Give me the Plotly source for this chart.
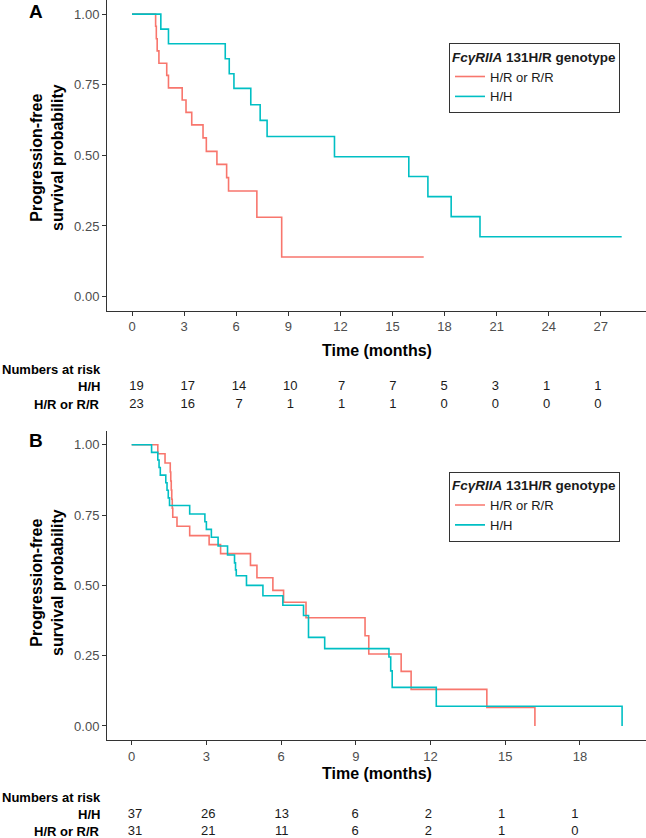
import plotly.graph_objects as go

# ---------------- data ----------------
# Panel A
a_hh_t = [0, 1.66, 2.10, 5.37, 5.60, 5.87, 6.84, 7.38, 7.78, 11.66, 15.94, 17.04, 18.38, 20.04, 28.2]
a_hh_s = [1, 0.947, 0.895, 0.842, 0.789, 0.737, 0.679, 0.624, 0.567, 0.495, 0.425, 0.354, 0.283, 0.212, 0.212]
a_hr_t = [0, 1.36, 1.40, 1.45, 1.55, 2.00, 2.10, 2.89, 3.11, 3.44, 4.09, 4.28, 4.89, 5.45, 5.56, 7.19, 8.62, 16.8]
a_hr_s = [1, 0.957, 0.913, 0.870, 0.826, 0.783, 0.739, 0.696, 0.652, 0.608, 0.562, 0.514, 0.468, 0.421, 0.374, 0.281, 0.140, 0.140]
a_ticks = [0, 3, 6, 9, 12, 15, 18, 21, 24, 27]
a_risk_hh = [19, 17, 14, 10, 7, 7, 5, 3, 1, 1]
a_risk_hr = [23, 16, 7, 1, 1, 1, 0, 0, 0, 0]

# Panel B
b_hh_t = [0, 0.80, 1.05, 1.10, 1.15, 1.37, 1.42, 1.47, 1.52, 2.33, 2.94, 3.00, 3.20, 3.47, 3.85,
          4.13, 4.17, 4.20, 4.61, 5.27, 6.07, 6.90, 7.10, 7.75, 10.33, 10.40, 10.46, 12.23, 19.69]
b_hh_s = [1, 0.973, 0.946, 0.919, 0.892, 0.865, 0.838, 0.811, 0.784, 0.754, 0.726, 0.699, 0.671, 0.640, 0.608,
          0.580, 0.555, 0.534, 0.500, 0.463, 0.429, 0.393, 0.315, 0.275, 0.245, 0.196, 0.137, 0.070, 0.0]
b_hr_t = [0, 1.05, 1.34, 1.55, 1.57, 1.59, 1.61, 1.63, 1.65, 1.82, 2.33, 3.11, 3.57, 4.77, 5.03,
          5.67, 6.10, 7.00, 9.37, 9.52, 10.82, 11.22, 14.26, 16.19]
b_hr_s = [1, 0.968, 0.935, 0.903, 0.871, 0.839, 0.806, 0.774, 0.742, 0.710, 0.677, 0.645, 0.613, 0.571, 0.527,
          0.482, 0.440, 0.385, 0.321, 0.256, 0.194, 0.130, 0.066, 0.0]
b_ticks = [0, 3, 6, 9, 12, 15, 18]
b_risk_hh = [37, 26, 13, 6, 2, 1, 1]
b_risk_hr = [31, 21, 11, 6, 2, 1, 0]

groups = ["H/R or R/R", "H/H"]
risk_rows = ["H/H", "H/R or R/R"]
y_ticks = [0, 0.25, 0.5, 0.75, 1.0]

RED = "#F8766D"
TEAL = "#00BFC4"
FONT = "Liberation Sans, Arial, sans-serif"
W, H = 646, 838

def py(px):  # pixel from top -> paper y
    return 1 - px / H

def pxx(px):
    return px / W

fig = go.Figure()

# Panel A curves
fig.add_trace(go.Scatter(x=a_hr_t, y=a_hr_s, mode="lines", line=dict(color=RED, width=1.6, shape="hv"),
                         name=groups[0], xaxis="x", yaxis="y", legend="legend"))
fig.add_trace(go.Scatter(x=a_hh_t, y=a_hh_s, mode="lines", line=dict(color=TEAL, width=1.6, shape="hv"),
                         name=groups[1], xaxis="x", yaxis="y", legend="legend"))
# Panel B curves
fig.add_trace(go.Scatter(x=b_hr_t, y=b_hr_s, mode="lines", line=dict(color=RED, width=1.6, shape="hv"),
                         name=groups[0], xaxis="x2", yaxis="y2", legend="legend2"))
fig.add_trace(go.Scatter(x=b_hh_t, y=b_hh_s, mode="lines", line=dict(color=TEAL, width=1.6, shape="hv"),
                         name=groups[1], xaxis="x2", yaxis="y2", legend="legend2"))

# Risk tables
tf = dict(family=FONT, size=13, color="#1a1a1a")
fig.add_trace(go.Scatter(x=a_ticks, y=[1] * len(a_ticks), text=[str(v) for v in a_risk_hh], mode="text",
                         textfont=tf, showlegend=False, xaxis="x3", yaxis="y3", cliponaxis=False))
fig.add_trace(go.Scatter(x=a_ticks, y=[0] * len(a_ticks), text=[str(v) for v in a_risk_hr], mode="text",
                         textfont=tf, showlegend=False, xaxis="x3", yaxis="y3", cliponaxis=False))
fig.add_trace(go.Scatter(x=b_ticks, y=[1] * len(b_ticks), text=[str(v) for v in b_risk_hh], mode="text",
                         textfont=tf, showlegend=False, xaxis="x4", yaxis="y4", cliponaxis=False))
fig.add_trace(go.Scatter(x=b_ticks, y=[0] * len(b_ticks), text=[str(v) for v in b_risk_hr], mode="text",
                         textfont=tf, showlegend=False, xaxis="x4", yaxis="y4", cliponaxis=False))

axis_common = dict(showline=True, linecolor="#333333", linewidth=1, ticks="outside", ticklen=4,
                   tickcolor="#333333", showgrid=False, zeroline=False,
                   tickfont=dict(family=FONT, size=13, color="#4d4d4d"))
hidden = dict(visible=False, showgrid=False, zeroline=False)

xdom = [pxx(107), 1.0]
legend_common = dict(bgcolor="white", bordercolor="#333333", borderwidth=1,
                     font=dict(family=FONT, size=13, color="#1a1a1a"),
                     title=dict(text="<b><i>FcγRIIA</i> 131H/R genotype</b>",
                                font=dict(family=FONT, size=13.5, color="#1a1a1a")),
                     xanchor="left", yanchor="top", tracegroupgap=0, itemwidth=30)

# risk table B rows: H/H at 814.5px, H/R at 831.5px (17px per unit)
b_top_px = 814.5 - 0.2 * 17
b_bot_px = 831.5 + 0.2 * 17

fig.update_layout(
    width=W, height=H, margin=dict(l=0, r=0, t=0, b=0),
    paper_bgcolor="white", plot_bgcolor="white",
    font=dict(family=FONT),
    xaxis=dict(domain=xdom, range=[-1.44, 29.6], tickvals=a_ticks, anchor="y", **axis_common),
    yaxis=dict(domain=[py(310.7), 1.0], range=[-0.05, 1.05], tickvals=y_ticks, tickformat=".2f",
               anchor="x", **axis_common),
    xaxis2=dict(domain=xdom, range=[-0.99, 20.65], tickvals=b_ticks, anchor="y2", **axis_common),
    yaxis2=dict(domain=[py(740), py(430.7)], range=[-0.05, 1.05], tickvals=y_ticks, tickformat=".2f",
                anchor="x2", **axis_common),
    xaxis3=dict(domain=xdom, range=[-1.726, 29.81], anchor="y3", **hidden),
    yaxis3=dict(domain=[py(413.1), py(377.9)], range=[-0.5, 1.5], anchor="x3", **hidden),
    xaxis4=dict(domain=xdom, range=[-1.146, 20.905], anchor="y4", **hidden),
    yaxis4=dict(domain=[py(b_bot_px), py(b_top_px)], range=[-0.2, 1.2], anchor="x4", **hidden),
    legend=dict(x=pxx(449), y=py(43), **legend_common),
    legend2=dict(x=pxx(449), y=py(471.5), **legend_common),
)

ann = []
title_font = dict(family=FONT, size=16, color="black")
for cy in (157, 582):
    ann.append(dict(text="<b>Progression-free<br>survival probability</b>", textangle=-90,
                    x=pxx(47), y=py(cy), xref="paper", yref="paper", showarrow=False,
                    font=title_font, xanchor="center", yanchor="middle"))
for cy in (350.5, 773.5):
    ann.append(dict(text="<b>Time (months)</b>", x=pxx(377), y=py(cy), xref="paper", yref="paper",
                    showarrow=False, font=dict(family=FONT, size=16, color="black"),
                    xanchor="center", yanchor="middle"))
for letter, top in (("A", 0), ("B", 429)):
    ann.append(dict(text=f"<b>{letter}</b>", x=pxx(28), y=py(top), xref="paper", yref="paper",
                    showarrow=False, font=dict(family=FONT, size=19, color="black"),
                    xanchor="left", yanchor="top", borderpad=0))
for cy in (369, 797):
    ann.append(dict(text="<b>Numbers at risk</b>", x=0.0, y=py(cy), xref="paper", yref="paper",
                    showarrow=False, font=dict(family=FONT, size=13, color="black"),
                    xanchor="left", yanchor="middle"))
for yref in ("y3", "y4"):
    for i, lab in enumerate(risk_rows):
        ann.append(dict(text=f"<b>{lab}</b>", x=pxx(102), y=1 - i, xref="paper", yref=yref,
                        showarrow=False, font=dict(family=FONT, size=13, color="black"),
                        xanchor="right", yanchor="middle"))
fig.update_layout(annotations=ann)

fig.write_html("out.html", config={"displayModeBar": False},
               post_script="document.body.style.margin='0';document.body.style.overflow='hidden';")
